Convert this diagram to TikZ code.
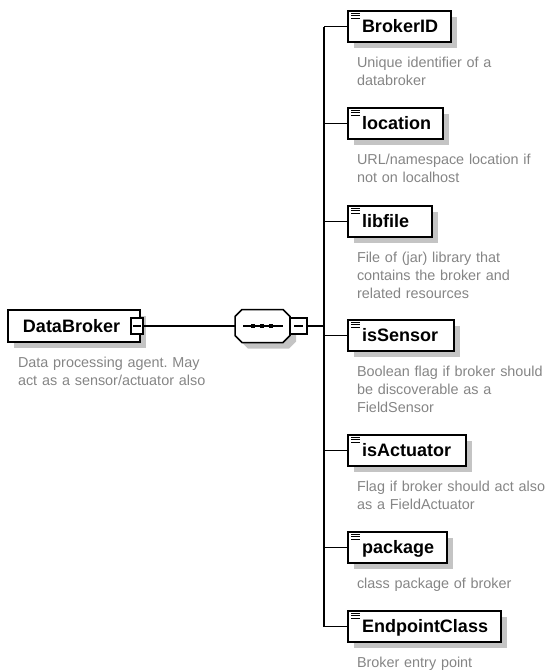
\documentclass[tikz,border=0pt]{standalone}
\usepackage{fontspec}
\setmainfont{Liberation Sans}
\usetikzlibrary{calc,shadows}
\definecolor{descgrey}{HTML}{858585}
\definecolor{shadowgrey}{HTML}{C4C4C4}
\newcommand{\elname}[2]{\makebox[#1][l]{\hspace{14pt}#2}}
\tikzset{
  elbox/.style={draw=black, line width=1.6pt, fill=white, inner sep=0pt, outer sep=0pt,
    minimum height=31pt, anchor=north west,
    font={\fontsize{18}{20}\selectfont\bfseries}, text height=12.9pt, text depth=0pt,
    drop shadow={shadow xshift=6pt, shadow yshift=-6pt, fill=shadowgrey, opacity=1}},
  desc/.style={anchor=north west, inner sep=0pt, outer sep=0pt, text width=230pt, align=left,
    font={\fontsize{14.4}{18}\selectfont\frenchspacing}, text=descgrey},
  minussq/.style={draw=black, line width=1.3pt, fill=white, inner sep=0pt, outer sep=0pt},
  conn/.style={line width=1.2pt, draw=black},
  seqframe/.style={draw=none, minimum width=55pt, minimum height=33pt, inner sep=0pt, outer sep=0pt},
  icon/.style={line width=0.8pt, draw=black},
}
\begin{document}
\begin{tikzpicture}[x=1pt,y=-1pt]
\useasboundingbox (0,0) rectangle (546,670);

% root element
\node[elbox, minimum height=32pt] (databroker) at (8,310) {\makebox[132pt][l]{\hspace{15pt}DataBroker}};
\node[minussq, minimum width=12pt, minimum height=16pt] (dbsq) at (137,326) {};
\draw[line width=1.2pt] ($(dbsq.center)+(-4,0)$) -- ($(dbsq.center)+(4,0)$);
\node[desc] (dbdesc) at ($(databroker.south west)+(10,13)$) {\rule{0pt}{12pt}Data processing agent. May\\act as a sensor/actuator also};

% sequence compositor (octagon)
\node[seqframe] (seq) at (262.5,326) {};
\def\octpath#1#2{
  ($(seq.north west)+(7+#1,#2)$) -- ($(seq.north east)+(-7+#1,#2)$) --
  ($(seq.north east)+(#1,7+#2)$) -- ($(seq.south east)+(#1,-7+#2)$) --
  ($(seq.south east)+(-7+#1,#2)$) -- ($(seq.south west)+(7+#1,#2)$) --
  ($(seq.south west)+(#1,-7+#2)$) -- ($(seq.north west)+(#1,7+#2)$) -- cycle}
\fill[shadowgrey] \octpath{6}{6};
\filldraw[fill=white, draw=black, line width=1.5pt] \octpath{0}{0};
\draw[line width=1.2pt] ($(seq.center)+(-19.5,0)$) -- ($(seq.center)+(20.5,0)$);
\foreach \dx in {-9.5,-0.5,8.5}
  \fill[black] ($(seq.center)+(\dx-2,-2)$) rectangle ($(seq.center)+(\dx+2,2)$);
\node[minussq, minimum width=17pt, minimum height=16pt, anchor=west] (seqsq) at (seq.east) {};
\draw[line width=1.2pt] ($(seqsq.center)+(-4.5,0)$) -- ($(seqsq.center)+(4.5,0)$);

\draw[conn] (dbsq.east) -- (seq.west);

% bus coordinate
\coordinate (busx) at (324,326);

% children
\node[elbox] (brokerid) at (348,11) {\elname{103pt}{BrokerID}};
\node[elbox] (location) at (348,108) {\elname{95pt}{location}};
\node[elbox] (libfile) at (348,206) {\elname{84pt}{libfile}};
\node[elbox] (issensor) at (348,320) {\elname{106pt}{isSensor}};
\node[elbox] (isactuator) at (348,435) {\elname{118pt}{isActuator}};
\node[elbox] (package) at (348,532) {\elname{99pt}{package}};
\node[elbox] (endpoint) at (348,611) {\elname{153pt}{EndpointClass}};

\foreach \n in {brokerid,location,libfile,issensor,isactuator,package,endpoint}{
  \foreach \dy in {2.5,4.8,7.1}
    \draw[icon] ($(\n.north west)+(3,\dy)$) -- ($(\n.north west)+(11.5,\dy)$);
  \draw[conn] (\n.west -| busx) -- (\n.west);
}

\draw[conn] (seqsq.east) -- (busx);
\draw[conn] (brokerid.west -| busx) -- (endpoint.west -| busx);

% descriptions
\node[desc] (d1) at ($(brokerid.south west)+(9,13)$) {\rule{0pt}{12pt}Unique identifier of a\\databroker};
\node[desc] (d2) at ($(location.south west)+(9,13)$) {\rule{0pt}{12pt}URL/namespace location if\\not on localhost};
\node[desc] (d3) at ($(libfile.south west)+(9,13)$) {\rule{0pt}{12pt}File of (jar) library that\\contains the broker and\\related resources};
\node[desc] (d4) at ($(issensor.south west)+(9,13)$) {\rule{0pt}{12pt}Boolean flag if broker should\\be discoverable as a\\FieldSensor};
\node[desc] (d5) at ($(isactuator.south west)+(9,13)$) {\rule{0pt}{12pt}Flag if broker should act also\\as a FieldActuator};
\node[desc] (d6) at ($(package.south west)+(9,13)$) {\rule{0pt}{12pt}class package of broker};
\node[desc] (d7) at ($(endpoint.south west)+(9,13)$) {\rule{0pt}{12pt}Broker entry point};
\end{tikzpicture}
\end{document}
